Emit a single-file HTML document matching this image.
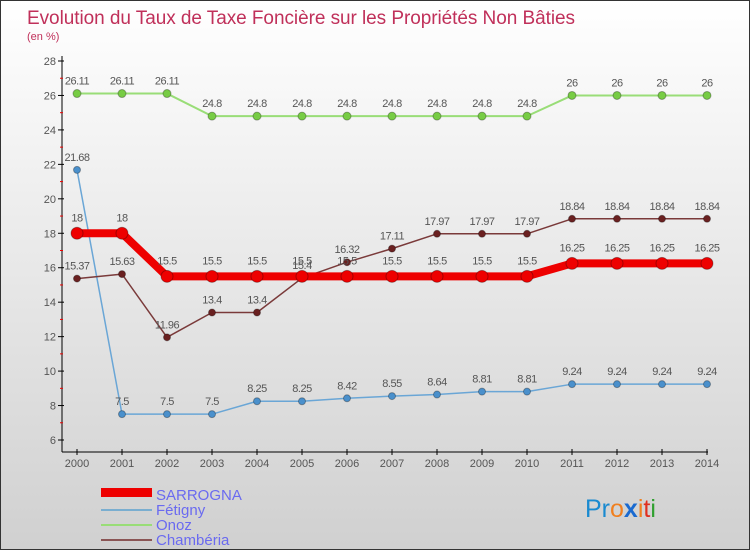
<!DOCTYPE html>
<html><head><meta charset="utf-8"><style>
body{margin:0;width:750px;height:550px;overflow:hidden;font-family:"Liberation Sans",sans-serif}
#wrap{position:relative;width:748px;height:548px;border:1px solid #333;background:linear-gradient(#ffffff,#d0d0d0)}
svg{position:absolute;left:0;top:0}
</style></head><body>
<div id="wrap">
<svg id="chart" width="750" height="550">
<text x="26" y="23" font-size="19" fill="#c0305a" textLength="548">Evolution du Taux de Taxe Foncière sur les Propriétés Non Bâties</text>
<text x="26" y="39" font-size="11" fill="#c0305a">(en %)</text>
<g id="axes"></g><g id="series"></g>
<g>
<rect x="100" y="487" width="51" height="9" fill="#e00"/>
<text x="155" y="499" font-size="15" fill="#6a6af0">SARROGNA</text>
<rect x="100" y="508" width="51" height="2" fill="#7aaed0"/>
<text x="155" y="514" font-size="15" fill="#6a6af0">Fétigny</text>
<rect x="100" y="523" width="51" height="2" fill="#99dd77"/>
<text x="155" y="529" font-size="15" fill="#6a6af0">Onoz</text>
<rect x="100" y="538" width="51" height="2" fill="#8a5555"/>
<text x="155" y="544" font-size="15" fill="#6a6af0">Chambéria</text>
</g>
<text x="584" y="516" font-size="25"><tspan fill="#1a8ad0">Pr</tspan><tspan fill="#f08020">o</tspan><tspan fill="#1a6ad0" font-weight="bold">x</tspan><tspan fill="#f08020">i</tspan><tspan fill="#e03020">t</tspan><tspan fill="#30a030">i</tspan></text>
</svg></div>
<script>
const years=[2000,2001,2002,2003,2004,2005,2006,2007,2008,2009,2010,2011,2012,2013,2014];
const sarrogna=[18,18,15.5,15.5,15.5,15.5,15.5,15.5,15.5,15.5,15.5,16.25,16.25,16.25,16.25];
const fetigny=[21.68,7.5,7.5,7.5,8.25,8.25,8.42,8.55,8.64,8.81,8.81,9.24,9.24,9.24,9.24];
const onoz=[26.11,26.11,26.11,24.8,24.8,24.8,24.8,24.8,24.8,24.8,24.8,26,26,26,26];
const chamberia=[15.37,15.63,11.96,13.4,13.4,15.4,16.32,17.11,17.97,17.97,17.97,18.84,18.84,18.84,18.84];
const yTicks=[6,8,10,12,14,16,18,20,22,24,26,28];
const NS="http://www.w3.org/2000/svg";
const X=i=>76+i*(706-76)/(years.length-1);
const Y=v=>439-(v-6)*(439-60)/22;
function mk(t,a,p){const e=document.createElementNS(NS,t);for(const k in a)e.setAttribute(k,a[k]);p.appendChild(e);return e;}
const ax=document.getElementById('axes');
let l=mk('line',{x1:61,y1:55,x2:61,y2:451,stroke:'#000'},ax);


l=mk('line',{x1:61,y1:451,x2:707,y2:451,stroke:'#000'},ax);


yTicks.forEach(v=>{const y=Y(v);
mk('line',{x1:57,y1:y,x2:63,y2:y,stroke:'#000'},ax);
const t=mk('text',{x:55,y:y+4,'font-size':11,fill:'#555','text-anchor':'end'},ax);t.textContent=v;


if(v<28)mk('line',{x1:59,y1:Y(v+1),x2:62,y2:Y(v+1),stroke:'#e00'},ax);});
years.forEach((yr,i)=>{const x=X(i);
mk('line',{x1:x,y1:448,x2:x,y2:454,stroke:'#000'},ax);
const t=mk('text',{x:x,y:466,'font-size':11,fill:'#555','text-anchor':'middle'},ax);t.textContent=yr;

});
const sg=document.getElementById('series');
function draw(data,name,col,lw,r,dot,lblOff){
const g=mk('g',{},sg);


mk('polyline',{points:data.map((v,i)=>X(i)+','+Y(v)).join(' '),fill:'none',stroke:col,'stroke-width':lw,'stroke-linejoin':'round'},g);
data.forEach((v,i)=>{const c=mk('circle',{cx:X(i),cy:Y(v),r:r,fill:dot,stroke:'rgba(0,0,0,0.3)'},g);


const t=mk('text',{x:X(i),y:Y(v)+lblOff,'font-size':11,fill:'#555','text-anchor':'middle','letter-spacing':'-0.5'},g);t.textContent=v;

});}
draw(onoz,'onoz','#99dd77',2,4,'#77cc44',-9);
draw(fetigny,'fetigny','#6aa6d6',1.5,3.5,'#4a90cc',-9);
draw(chamberia,'chamberia','#7a3a3a',1.5,3.5,'#6a2020',-9);
draw(sarrogna,'sarrogna','#ee0000',8,6,'#ee0000',-12);
</script>
</body></html>
